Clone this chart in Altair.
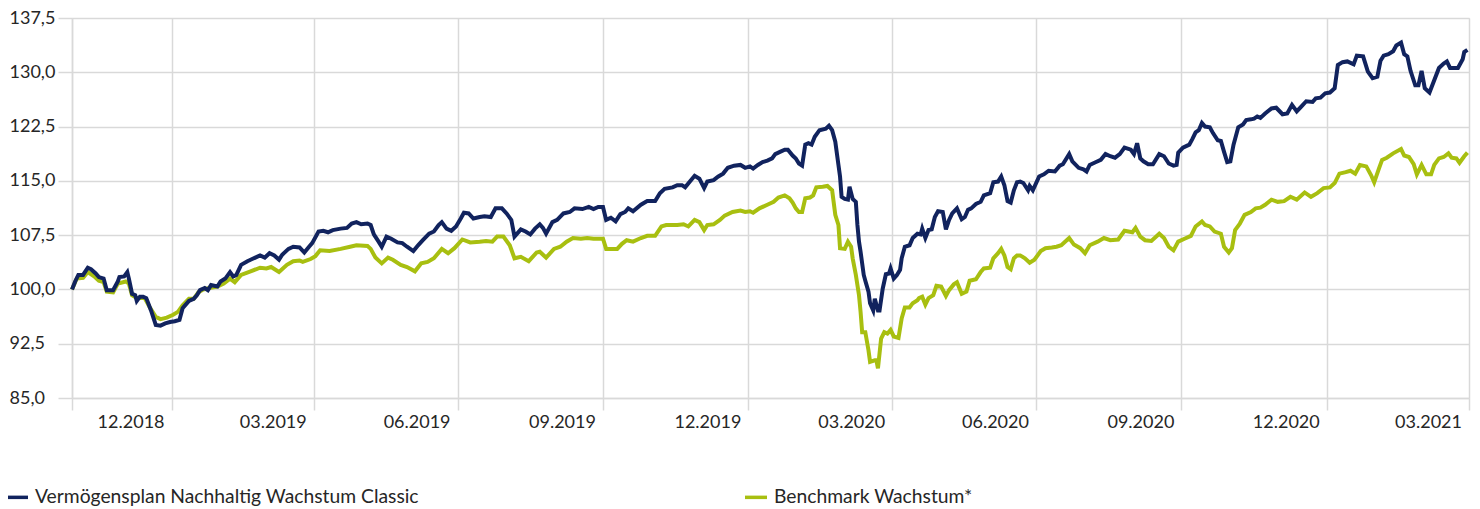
import altair as alt
import pandas as pd

# ---- data (days since 29.10.2018, index values) ----
START = "2018-10-29"
SERIES_A = "Vermögensplan Nachhaltig Wachstum Classic"
SERIES_B = "Benchmark Wachstum*"

navy_days = [0,2,4,7,10,12,15,17,20,22,26,29,30,33,35,36,38,40,41,43,45,47,50,53,56,59,62,65,68,70,74,77,79,81,84,86,88,92,94,97,100,102,104,107,111,114,117,119,122,125,128,131,133,137,140,
             144,147,150,152,156,159,162,165,170,174,177,180,183,187,189,191,194,196,199,202,206,209,212,216,219,222,226,229,232,234,237,240,243,246,248,251,254,258,261,265,268,272,275,278,280,284,287,290,293,296,
             298,300,304,307,311,315,318,323,327,330,333,336,338,341,344,347,350,352,355,360,364,369,372,375,380,383,386,388,391,394,397,400,402,406,409,412,415,419,423,426,429,431,434,437,440,443,445,448,
             451,453,456,458,460,462,464,466,468,470,473,477,479,481,483,485,486,487,489,491,492,494,496,497,498,499,501,502,504,505,507,508,510,511,513,515,517,518,520,522,524,525,527,530,532,535,537,538,540,542,544,546,548,551,553,555,557,560,563,565,567,569,572,575,577,581,583,586,588,590,592,594,596,598,
             600,602,605,606,608,612,615,618,622,625,627,631,633,637,640,642,644,648,651,654,657,660,663,666,670,672,674,676,678,681,684,688,691,694,697,699,700,703,707,709,711,713,715,717,720,722,725,727,729,731,733,735,738,741,743,746,748,750,
             752,755,759,762,766,769,772,775,778,781,785,787,790,793,796,799,801,804,807,811,813,817,820,823,826,828,830,833,836,838,841,843,845,847,850,852,854,856,859,862,865,868,870,872,875,877,880,881,883]
navy_values = [100.0,101.1,102.0,102.0,103.0,102.8,102.2,101.7,101.5,99.9,99.9,101.1,101.7,101.8,102.4,101.5,99.4,99.2,98.4,99.0,99.0,98.8,97.1,95.1,95.0,95.3,95.5,95.6,95.8,97.4,98.4,98.7,99.2,99.9,100.2,99.9,100.6,100.4,101.1,101.5,102.4,101.8,102.0,103.4,103.9,104.2,104.5,104.7,104.4,105.0,104.7,104.1,104.8,105.6,105.9,
               105.8,105.1,105.9,106.4,108.0,108.1,107.9,108.2,108.4,108.5,109.1,109.3,109.0,109.1,108.9,107.6,106.6,105.9,107.3,107.0,106.5,106.4,105.9,105.3,106.1,106.8,107.7,108.0,108.9,109.3,108.4,108.1,108.7,109.8,110.6,110.5,109.8,110.0,110.1,110.0,111.2,111.2,110.5,109.6,107.3,108.3,108.0,107.6,108.4,109.0,
               108.5,107.7,109.3,109.6,110.5,110.7,111.2,111.1,111.4,111.1,111.4,111.4,109.6,109.9,109.4,110.4,110.7,111.2,110.8,111.7,112.2,112.2,113.3,113.9,114.1,114.4,114.4,114.1,114.9,115.7,115.3,114.0,114.9,115.1,115.6,116.0,116.8,117.1,117.2,116.8,117.0,116.7,117.2,117.6,117.8,118.1,118.7,119.0,
               119.3,119.3,118.5,118.1,117.4,117.1,120.0,120.2,120.0,121.1,122.0,122.2,122.6,122.0,120.4,117.2,115.6,112.8,112.5,112.4,114.2,112.5,112.1,108.9,106.6,105.2,102.0,101.2,99.7,98.1,97.1,98.7,97.1,97.1,100.1,102.1,102.2,102.9,101.5,102.0,102.7,104.3,105.9,106.1,107.1,107.7,107.6,108.4,107.1,108.2,108.3,110.0,110.8,110.7,108.3,109.6,110.5,111.2,109.7,110.0,111.0,111.2,111.8,112.1,113.0,113.3,114.8,114.9,115.6,114.4,112.2,112.0,113.7,114.8,
               114.9,114.7,113.7,114.3,113.7,115.6,115.9,116.4,116.3,117.1,117.3,118.7,117.7,116.8,116.6,116.3,117.2,117.6,117.9,118.7,118.4,118.2,118.7,119.6,119.3,118.7,120.2,118.1,117.7,117.3,117.3,118.7,118.4,117.4,117.1,117.2,118.9,119.6,120.0,120.8,121.7,122.0,123.0,122.5,122.4,121.6,120.6,120.5,119.0,117.6,117.7,120.0,122.4,122.8,123.4,123.5,123.6,123.9,
               123.7,124.3,125.0,125.1,124.2,124.3,125.5,124.6,125.3,126.0,125.9,126.4,126.5,127.1,127.2,127.8,131.0,131.4,131.5,131.1,132.3,132.2,130.1,129.2,129.4,131.6,132.3,132.5,132.9,133.7,134.1,132.5,132.2,130.2,128.2,128.2,130.2,127.8,127.2,128.9,130.6,131.2,131.5,130.6,130.6,130.6,131.8,132.8,133.1]

green_days = [0,3,7,10,14,17,20,22,26,29,34,36,38,41,46,49,53,56,60,64,67,70,74,77,80,83,87,92,96,100,103,107,113,119,123,126,131,136,140,
              144,146,151,154,157,163,170,176,180,187,189,192,196,200,203,208,212,217,221,225,229,234,238,242,247,252,258,262,266,269,273,277,280,284,289,294,
              296,300,305,309,313,317,322,326,330,336,338,342,345,348,351,355,360,364,369,373,376,383,387,390,394,397,400,402,406,410,413,418,423,426,429,431,435,440,444,447,
              451,454,456,458,460,462,464,467,469,471,475,478,481,483,485,486,489,491,493,494,496,498,499,500,502,504,505,508,509,510,512,514,516,518,520,523,525,527,530,532,535,536,538,540,542,545,547,550,553,555,558,560,563,566,568,572,575,577,581,583,586,588,590,592,594,596,598,
              600,603,606,609,613,616,620,623,626,631,634,638,641,644,649,653,657,662,666,671,673,676,679,683,688,691,694,697,700,704,708,711,715,717,720,723,727,729,732,734,736,739,742,746,749,
              752,755,759,763,767,771,775,780,784,788,792,796,799,802,806,809,812,815,819,822,824,827,829,832,836,841,843,846,849,851,854,857,860,862,865,868,871,873,876,878,881,883]
green_values = [100.0,101.5,101.6,102.4,101.8,101.2,101.0,99.7,99.6,100.8,101.1,100.8,99.2,98.8,98.8,97.6,96.2,95.9,96.1,96.5,96.9,97.8,98.7,98.7,99.6,100.0,100.2,100.4,100.8,101.5,101.0,102.0,102.5,103.0,102.9,103.1,102.4,103.4,103.9,
                104.0,103.8,104.2,104.6,105.4,105.3,105.6,105.9,106.1,106.0,105.6,104.4,103.6,104.4,104.1,103.4,103.1,102.5,103.6,103.8,104.3,105.6,105.0,105.7,106.9,106.5,106.6,106.7,106.6,107.3,107.3,106.1,104.3,104.5,103.9,105.1,
                105.2,104.4,105.6,105.9,106.6,107.1,107.0,107.1,107.0,107.0,105.6,105.6,105.6,106.3,106.8,106.6,107.1,107.4,107.4,108.7,108.9,108.9,109.0,108.7,109.6,109.3,108.2,108.9,109.0,109.6,110.2,110.7,110.9,110.7,110.8,110.6,111.2,111.7,112.1,112.7,
                113.0,112.6,112.0,111.2,110.7,110.7,112.6,112.7,113.0,114.1,114.2,114.3,113.7,110.3,108.9,105.7,105.6,106.6,105.9,104.3,102.0,99.2,96.9,94.1,94.1,91.6,90.0,90.2,90.2,89.1,93.2,94.1,93.9,94.4,93.5,93.3,96.0,97.5,97.5,98.1,98.5,98.8,99.0,97.9,98.8,99.2,100.5,100.4,99.1,99.9,100.7,101.0,99.4,99.7,101.2,101.4,102.4,102.9,103.0,104.3,105.0,105.6,104.7,103.1,102.8,104.3,104.7,
                104.7,104.3,103.7,104.1,105.3,105.7,105.8,105.9,106.1,107.1,106.2,105.7,105.0,106.1,106.6,107.1,106.8,106.9,108.1,107.9,108.5,107.3,106.8,106.7,107.7,107.1,105.9,105.4,106.6,107.0,107.4,108.7,109.4,108.9,108.7,108.0,107.7,105.9,105.1,105.7,108.2,109.1,110.3,110.7,111.2,
                111.3,111.7,112.4,112.1,112.2,112.8,112.4,113.4,112.8,113.3,114.0,114.1,114.7,116.0,116.2,116.4,116.0,117.2,117.0,115.8,114.8,116.7,117.9,118.2,118.8,119.4,118.5,118.3,117.3,115.9,117.2,115.9,115.9,117.2,118.1,118.3,118.8,118.2,118.1,117.5,118.4,118.9]

y_ticks = [85.0, 92.5, 100.0, 107.5, 115.0, 122.5, 130.0, 137.5]
x_ticks = ["2018-10-29", "2018-12-31", "2019-03-31", "2019-06-30", "2019-09-30", "2019-12-31",
           "2020-03-31", "2020-06-30", "2020-09-30", "2020-12-31", "2021-03-31"]
NAVY = "#11235E"
GREEN = "#A8BF10"

# ---- build table ----
base_date = pd.Timestamp(START)
df = pd.concat([
    pd.DataFrame({"date": base_date + pd.to_timedelta(green_days, unit="D"),
                  "value": green_values, "series": SERIES_B}),
    pd.DataFrame({"date": base_date + pd.to_timedelta(navy_days, unit="D"),
                  "value": navy_values, "series": SERIES_A}),
])

def dt(s):
    t = pd.Timestamp(s)
    return alt.DateTime(year=t.year, month=t.month, date=t.day)

FONT = "Lato"
GRID = "#d9d9d9"
TXT = "#262626"

x_enc = alt.X("date:T",
              scale=alt.Scale(domain=[dt(x_ticks[0]), dt(x_ticks[-1])], nice=False),
              axis=alt.Axis(values=[dt(s) for s in x_ticks], title=None,
                            labelExpr="timeFormat(datum.value, '%m.%Y') == '10.2018' ? '' : timeFormat(datum.value, '%m.%Y')",
                            grid=True, gridColor=GRID, gridWidth=1.5,
                            domainColor=GRID, domainWidth=1.5,
                            tickColor=GRID, tickWidth=1.5, tickSize=12,
                            labelFont=FONT, labelFontSize=18, labelColor=TXT,
                            labelOffset=-41, labelPadding=3, labelFlush=False,
                            labelOverlap=False, labelBound=False))
y_enc = alt.Y("value:Q",
              scale=alt.Scale(domain=[85, 137.5], nice=False, zero=False),
              axis=alt.Axis(values=y_ticks, title=None,
                            labelExpr="replace(format(datum.value, '.1f'), '.', ',')",
                            grid=True, gridColor=GRID, gridWidth=1.5,
                            domainColor=GRID, domainWidth=1.5,
                            tickColor=GRID, tickWidth=1.5, tickSize=14,
                            labelFont=FONT, labelFontSize=18, labelColor=TXT,
                            labelAlign="left", labelBaseline="middle", labelPadding=49))
color_enc = alt.Color("series:N",
                      scale=alt.Scale(domain=[SERIES_A, SERIES_B], range=[NAVY, GREEN]),
                      legend=alt.Legend(orient="none", legendX=-68, legendY=466,
                                        direction="horizontal", title=None,
                                        symbolType="stroke", symbolStrokeWidth=3.5,
                                        symbolSize=484, labelFont=FONT, labelFontSize=19.3,
                                        labelColor=TXT, columnPadding=319, padding=0,
                                        labelLimit=1000, labelOffset=5))

base = alt.Chart(df).mark_line(strokeWidth=4, interpolate="linear").encode(
    x=x_enc, y=y_enc, color=color_enc, order="date:T")

chart = alt.layer(
    base.transform_filter(alt.datum.series == SERIES_B),
    base.transform_filter(alt.datum.series == SERIES_A),
).properties(
    width=1397, height=380,
    autosize=alt.AutoSizeParams(type="none"),
    padding={"left": 64, "top": 10, "right": 3, "bottom": 112},
).configure_view(stroke=None).configure(background="white")

chart.save("out.html", embed_options={"renderer": "svg", "actions": False})
